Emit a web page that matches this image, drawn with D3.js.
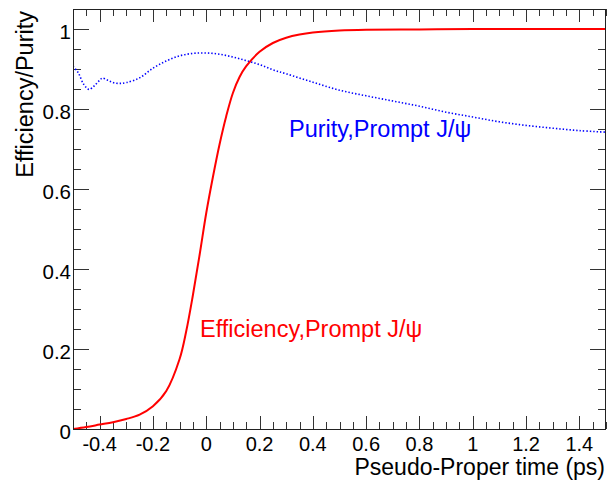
<!DOCTYPE html>
<html>
<head>
<meta charset="utf-8">
<script src="https://cdn.jsdelivr.net/npm/d3@7"></script>
<style>
  body { margin: 0; background: #fff; }
  text { font-family: "Liberation Sans", Arial, sans-serif; }
</style>
</head>
<body>
<div id="chart"></div>
<script>
// pseudo-proper time (ps) and efficiency of the prompt J/psi cut
const effTime = [-0.5, -0.45, -0.4, -0.35, -0.3, -0.25, -0.2, -0.15, -0.1, -0.075, -0.05, -0.025,
    0, 0.025, 0.05, 0.075, 0.1, 0.125, 0.15, 0.2, 0.25, 0.3, 0.35, 0.4, 0.5, 0.6, 0.8, 1.0, 1.5];
const effValues = [0.0, 0.005, 0.011, 0.017, 0.025, 0.036, 0.057, 0.095, 0.175, 0.245, 0.335, 0.435,
    0.54, 0.63, 0.712, 0.782, 0.84, 0.88, 0.907, 0.943, 0.965, 0.978, 0.986, 0.991, 0.996, 0.998, 0.999, 1.0, 1.0];

// purity of the prompt J/psi sample
const purTime = [-0.5, -0.48, -0.46, -0.44, -0.42, -0.4, -0.39, -0.37, -0.35, -0.325, -0.3, -0.25,
    -0.2, -0.15, -0.1, -0.05, 0, 0.05, 0.1, 0.15, 0.2, 0.25, 0.3, 0.4, 0.5, 0.6, 0.7, 0.8, 0.9,
    1.0, 1.1, 1.2, 1.3, 1.4, 1.5];
const purValues = [0.907, 0.89, 0.862, 0.849, 0.858, 0.872, 0.877, 0.872, 0.866, 0.864, 0.866, 0.878,
    0.902, 0.92, 0.933, 0.939, 0.94, 0.937, 0.93, 0.921, 0.911, 0.898, 0.888, 0.867, 0.847, 0.833, 0.82,
    0.807, 0.792, 0.78, 0.768, 0.759, 0.752, 0.746, 0.742];

const xTickLabels = ["-0.4", "-0.2", "0", "0.2", "0.4", "0.6", "0.8", "1", "1.2", "1.4"];
const yTickLabels = ["0", "0.2", "0.4", "0.6", "0.8", "1"];

const width = 611, height = 485;
const margin = {top: 9, right: 5, bottom: 56, left: 73};

const svg = d3.select("#chart").append("svg")
    .attr("width", width)
    .attr("height", height);

const x = d3.scaleLinear().domain([-0.5, 1.5]).range([margin.left, width - margin.right]);
const y = d3.scaleLinear().domain([0, 1.05]).range([height - margin.bottom, margin.top]);

const x0 = x.range()[0], x1 = x.range()[1];
const y0 = y.range()[0], y1 = y.range()[1];

svg.append("defs").append("clipPath").attr("id", "clip")
  .append("rect")
    .attr("x", x0).attr("y", y1)
    .attr("width", x1 - x0).attr("height", y0 - y1);

// ticks (ROOT style, pointing inside the frame on all four sides)
const xMajor = d3.range(-0.4, 1.5, 0.2).map(d => +d.toFixed(2));
const xMinor = d3.range(-0.5, 1.5001, 0.05).map(d => +d.toFixed(2));
const yMajor = d3.range(0, 1.01, 0.2).map(d => +d.toFixed(2));
const yMinor = d3.range(0, 1.0501, 0.05).map(d => +d.toFixed(2));

const tickColor = "#333";

function axisTicks(g, vals, len, side) {
    g.selectAll(null).data(vals).enter().append("line")
        .attr("x1", d => side === "b" || side === "t" ? Math.round(x(d)) + 0.5 : (side === "l" ? x0 : x1))
        .attr("x2", d => side === "b" || side === "t" ? Math.round(x(d)) + 0.5 : (side === "l" ? x0 + len : x1 - len))
        .attr("y1", d => side === "l" || side === "r" ? Math.round(y(d)) + 0.5 : (side === "b" ? y0 : y1))
        .attr("y2", d => side === "l" || side === "r" ? Math.round(y(d)) + 0.5 : (side === "b" ? y0 - len : y1 + len))
        .attr("stroke", tickColor)
        .attr("stroke-width", 1);
}

const ticks = svg.append("g");
axisTicks(ticks, xMinor, 7, "b");
axisTicks(ticks, xMajor, 13, "b");
axisTicks(ticks, xMinor, 7, "t");
axisTicks(ticks, xMajor, 13, "t");
axisTicks(ticks, yMinor, 8, "l");
axisTicks(ticks, yMajor, 16, "l");
axisTicks(ticks, yMinor, 8, "r");
axisTicks(ticks, yMajor, 16, "r");

// curves
const effLine = d3.line()
    .x((d, i) => x(effTime[i]))
    .y(d => y(d))
    .curve(d3.curveCatmullRom.alpha(0.5));

const purLine = d3.line()
    .x((d, i) => x(purTime[i]))
    .y(d => y(d))
    .curve(d3.curveCatmullRom.alpha(0.5));

const plot = svg.append("g").attr("clip-path", "url(#clip)");

plot.append("path")
    .attr("d", purLine(purValues))
    .attr("fill", "none")
    .attr("stroke", "#0000ff")
    .attr("stroke-width", 1.6)
    .attr("stroke-dasharray", "1.4,2");

plot.append("path")
    .attr("d", effLine(effValues))
    .attr("fill", "none")
    .attr("stroke", "#ff0000")
    .attr("stroke-width", 2);

// frame
svg.append("rect")
    .attr("x", x0 + 0.5).attr("y", y1 + 0.5)
    .attr("width", x1 - x0 - 1).attr("height", y0 - y1)
    .attr("fill", "none")
    .attr("stroke", "#222")
    .attr("stroke-width", 1);

// tick labels
svg.append("g").selectAll("text").data(xTickLabels).enter().append("text")
    .attr("x", d => x(+d))
    .attr("y", 451)
    .attr("text-anchor", "middle")
    .attr("font-size", 20)
    .text(d => d);

svg.append("g").selectAll("text").data(yTickLabels).enter().append("text")
    .attr("x", 71)
    .attr("y", d => y(+d) + 10)
    .attr("text-anchor", "end")
    .attr("font-size", 20.5)
    .text(d => d);

// axis titles
svg.append("text")
    .attr("x", 605)
    .attr("y", 475)
    .attr("text-anchor", "end")
    .attr("font-size", 23)
    .text("Pseudo-Proper time (ps)");

svg.append("text")
    .attr("transform", "translate(33,11) rotate(-90)")
    .attr("text-anchor", "end")
    .attr("font-size", 23.5)
    .text("Efficiency/Purity");

// curve labels
svg.append("text")
    .attr("x", 289)
    .attr("y", 137)
    .attr("font-size", 23.5)
    .attr("fill", "#0000ff")
    .text("Purity,Prompt J/\u03c8");

svg.append("text")
    .attr("x", 200)
    .attr("y", 337)
    .attr("font-size", 23.5)
    .attr("fill", "#ff0000")
    .text("Efficiency,Prompt J/\u03c8");
</script>
</body>
</html>
